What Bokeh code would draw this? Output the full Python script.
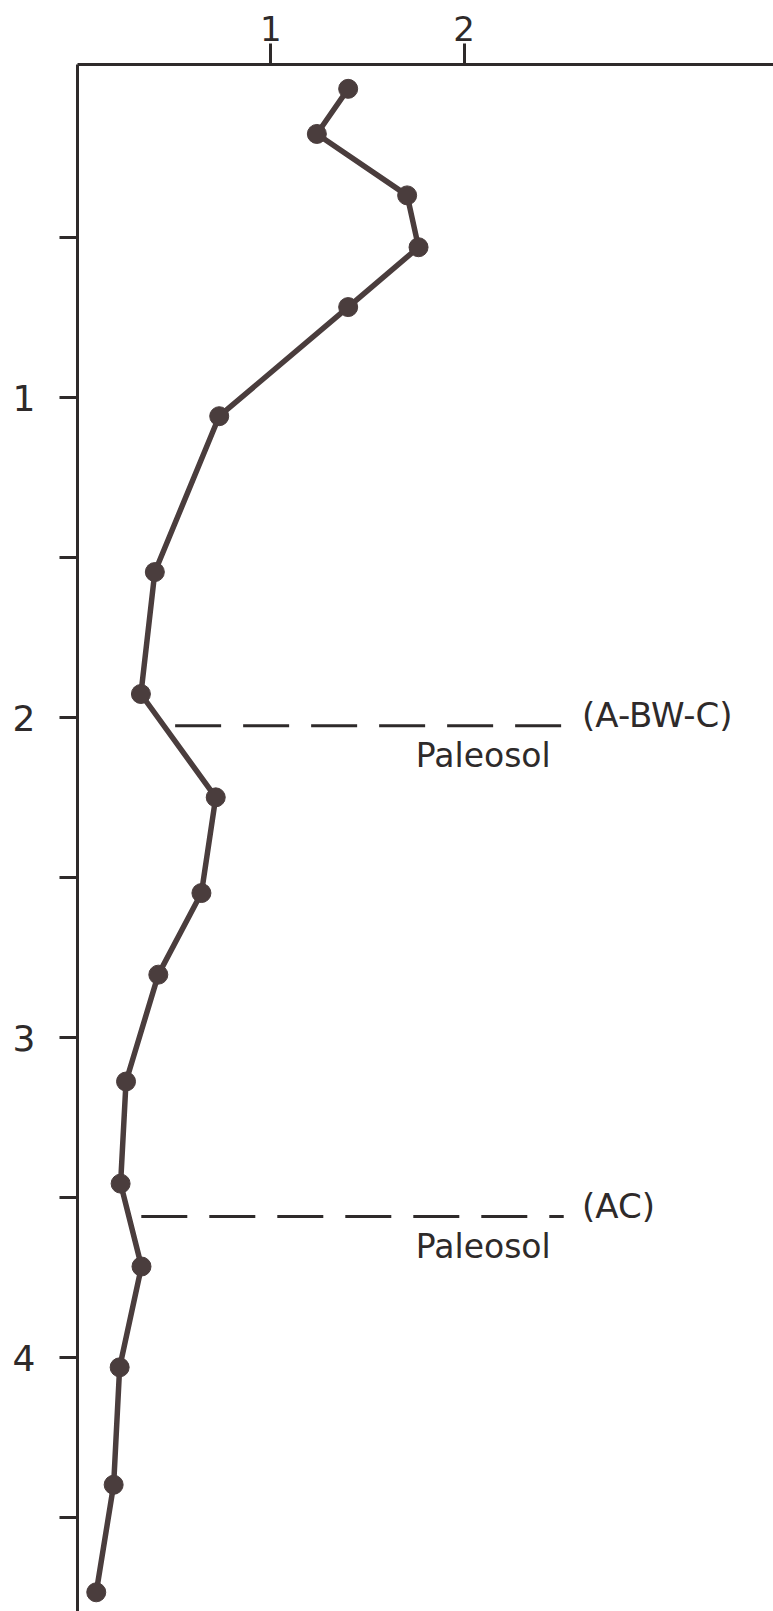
from bokeh.plotting import figure
from bokeh.models import Range1d, FixedTicker
from bokeh.embed import file_html
from bokeh.resources import INLINE
from bokeh.core.properties import value

# Data (x: value, y: depth)
values = [1.40, 1.238, 1.705, 1.764, 1.40, 0.733, 0.40, 0.328, 0.715,
          0.641, 0.418, 0.251, 0.223, 0.331, 0.218, 0.187, 0.097]
depths = [0.035, 0.176, 0.368, 0.530, 0.717, 1.058, 1.545, 1.926, 2.249,
          2.548, 2.803, 3.137, 3.456, 3.715, 4.030, 4.397, 4.733]

x_ticks = [1, 2]
y_ticks = [1, 2, 3, 4]
y_minor_ticks = [0.5, 1.5, 2.5, 3.5, 4.5]

horizon_names = ["(A-BW-C)", "(AC)"]
horizon_label = "Paleosol"
horizon_depths = [2.025, 3.559]
horizon_starts = [0.505, 0.33]
horizon_ends = [2.515, 2.515]

INK = "#4a3d3d"
AXIS = "#2e2a2a"
FONT = "DejaVu Sans"

p = figure(width=773, height=1611,
           x_range=Range1d(0, 3.60), y_range=Range1d(4.793, -0.041),
           x_axis_location="above", output_backend="svg",
           toolbar_location=None, min_border_left=77, min_border_top=64,
           min_border_right=0, min_border_bottom=0)
p.outline_line_color = None
p.grid.visible = False
p.background_fill_color = "white"
p.border_fill_color = "white"

xa = p.xaxis[0]
xa.ticker = FixedTicker(ticks=x_ticks)
xa.axis_line_width = 3
xa.axis_line_color = AXIS
xa.major_tick_out = 21
xa.major_tick_in = 0
xa.major_tick_line_width = 3
xa.major_tick_line_color = AXIS
xa.minor_tick_line_color = None
xa.major_label_standoff = 3
xa.major_label_text_font = FONT
xa.major_label_text_font_size = "34px"
xa.major_label_text_color = AXIS

ya = p.yaxis[0]
ya.ticker = FixedTicker(ticks=y_ticks, minor_ticks=y_minor_ticks)
ya.axis_line_width = 3
ya.axis_line_color = AXIS
ya.major_tick_out = 18
ya.major_tick_in = 0
ya.minor_tick_out = 18
ya.minor_tick_in = 0
ya.major_tick_line_width = 3
ya.minor_tick_line_width = 3
ya.major_tick_line_color = AXIS
ya.minor_tick_line_color = AXIS
ya.major_label_standoff = 24
ya.major_label_text_font = FONT
ya.major_label_text_font_size = "36px"
ya.major_label_text_color = AXIS

# horizon dashed lines
p.segment(x0=horizon_starts, y0=horizon_depths, x1=horizon_ends, y1=horizon_depths,
          line_color=AXIS, line_width=3, line_dash="46 22")
p.text(x=[e + 0.095 for e in horizon_ends], y=[d - 0.032 for d in horizon_depths],
       text=horizon_names, text_font=value(FONT), text_font_size="34px",
       text_color=AXIS, text_align="left", text_baseline="middle")
p.text(x=[1.75] * len(horizon_depths), y=[d + 0.092 for d in horizon_depths],
       text=[horizon_label] * len(horizon_depths), text_font=value(FONT),
       text_font_size="33px", text_color=AXIS, text_align="left",
       text_baseline="middle")

# profile
p.line(values, depths, line_color=INK, line_width=5.5)
p.scatter(values, depths, size=19, fill_color=INK, line_color=INK)

open("out.html", "w").write(file_html(p, INLINE))
